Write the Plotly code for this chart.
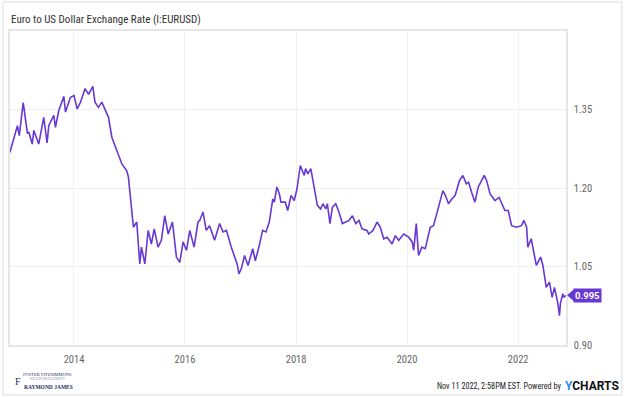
import plotly.graph_objects as go

dates = [
    "2012-11-05", "2012-12-03", "2012-12-25", "2013-01-06", "2013-02-01", "2013-03-01",
    "2013-03-10", "2013-04-01", "2013-04-12", "2013-05-14", "2013-06-16", "2013-07-08",
    "2013-07-19", "2013-08-21", "2013-09-01", "2013-09-23", "2013-10-26", "2013-11-06",
    "2013-12-08", "2014-01-01", "2014-01-22", "2014-02-13", "2014-03-15", "2014-04-07",
    "2014-05-05", "2014-05-19", "2014-06-11", "2014-07-03", "2014-08-16", "2014-09-07",
    "2014-10-09", "2014-11-12", "2014-12-14", "2014-12-25", "2015-01-27", "2015-02-18",
    "2015-03-10", "2015-03-21", "2015-04-12", "2015-05-04", "2015-05-25", "2015-06-13",
    "2015-07-08", "2015-07-30", "2015-08-21", "2015-09-13", "2015-10-11", "2015-11-06",
    "2015-11-28", "2015-12-20", "2016-01-11", "2016-02-02", "2016-03-01", "2016-03-27",
    "2016-04-07", "2016-04-29", "2016-05-20", "2016-06-11", "2016-07-14", "2016-08-16",
    "2016-09-08", "2016-09-30", "2016-11-01", "2016-11-23", "2016-12-10", "2016-12-21",
    "2017-01-06", "2017-01-27", "2017-02-19", "2017-03-22", "2017-04-08", "2017-05-04",
    "2017-05-26", "2017-06-17", "2017-07-09", "2017-08-01", "2017-08-11", "2017-08-28",
    "2017-09-13", "2017-09-24", "2017-10-22", "2017-11-07", "2017-11-29", "2017-12-20",
    "2018-01-07", "2018-01-29", "2018-02-24", "2018-03-05", "2018-03-20", "2018-04-08",
    "2018-04-29", "2018-05-21", "2018-06-12", "2018-06-27", "2018-07-15", "2018-07-26",
    "2018-08-12", "2018-08-28", "2018-09-19", "2018-10-10", "2018-11-02", "2018-11-24",
    "2018-12-15", "2019-01-07", "2019-01-29", "2019-02-19", "2019-03-11", "2019-04-13",
    "2019-04-24", "2019-05-22", "2019-06-18", "2019-07-09", "2019-08-01", "2019-08-23",
    "2019-09-25", "2019-10-16", "2019-11-07", "2019-12-10", "2020-01-12", "2020-02-04",
    "2020-02-14", "2020-03-02", "2020-03-17", "2020-04-08", "2020-04-30", "2020-06-02",
    "2020-06-23", "2020-07-15", "2020-08-02", "2020-08-24", "2020-09-09", "2020-09-30",
    "2020-10-22", "2020-11-13", "2020-12-11", "2021-01-03", "2021-01-25", "2021-02-09",
    "2021-03-01", "2021-03-23", "2021-04-14", "2021-05-06", "2021-05-23", "2021-06-08",
    "2021-06-30", "2021-08-01", "2021-08-29", "2021-10-06", "2021-10-28", "2021-11-19",
    "2021-12-21", "2022-01-23", "2022-02-08", "2022-02-26", "2022-03-06", "2022-03-28",
    "2022-05-01", "2022-05-29", "2022-06-13", "2022-07-05", "2022-07-26", "2022-08-13",
    "2022-08-28", "2022-09-20", "2022-09-30", "2022-10-06", "2022-10-22", "2022-10-28",
    "2022-11-11",
]
eurusd = [
    1.268, 1.294, 1.319, 1.300, 1.363, 1.304,
    1.307, 1.284, 1.310, 1.284, 1.335, 1.286,
    1.319, 1.339, 1.316, 1.348, 1.375, 1.345,
    1.373, 1.377, 1.351, 1.364, 1.390, 1.379,
    1.394, 1.364, 1.354, 1.364, 1.335, 1.297,
    1.272, 1.246, 1.233, 1.221, 1.125, 1.135,
    1.055, 1.087, 1.055, 1.119, 1.093, 1.122,
    1.087, 1.100, 1.147, 1.112, 1.135, 1.068,
    1.058, 1.097, 1.081, 1.119, 1.087, 1.135,
    1.138, 1.154, 1.119, 1.128, 1.100, 1.132,
    1.116, 1.119, 1.087, 1.068, 1.054, 1.036,
    1.046, 1.071, 1.052, 1.084, 1.061, 1.090,
    1.119, 1.116, 1.135, 1.179, 1.173, 1.202,
    1.189, 1.173, 1.173, 1.157, 1.186, 1.176,
    1.198, 1.243, 1.224, 1.237, 1.227, 1.237,
    1.205, 1.167, 1.160, 1.170, 1.160, 1.170,
    1.132, 1.163, 1.170, 1.154, 1.132, 1.135,
    1.138, 1.147, 1.132, 1.138, 1.122, 1.119,
    1.112, 1.119, 1.135, 1.125, 1.103, 1.106,
    1.093, 1.109, 1.100, 1.112, 1.106, 1.097,
    1.081, 1.132, 1.071, 1.087, 1.084, 1.125,
    1.128, 1.151, 1.173, 1.195, 1.186, 1.170,
    1.179, 1.186, 1.214, 1.224, 1.208, 1.211,
    1.192, 1.173, 1.202, 1.214, 1.224, 1.214,
    1.189, 1.176, 1.182, 1.157, 1.157, 1.128,
    1.125, 1.128, 1.138, 1.125, 1.087, 1.103,
    1.052, 1.068, 1.052, 1.010, 1.020, 0.991,
    1.010, 0.979, 0.956, 0.979, 0.998, 0.991,
    0.995,
]

x_tick_vals = ["2014-01-01", "2016-01-01", "2018-01-01", "2020-01-01", "2022-01-01"]
x_tick_text = ["2014", "2016", "2018", "2020", "2022"]
y_tick_vals = [0.90, 1.05, 1.20, 1.35]
y_tick_text = ["0.90", "1.05", "1.20", "1.35"]

title_text = "Euro to US Dollar Exchange Rate (I:EURUSD)"
last_label = "0.995"
footer_text = "Nov 11 2022, 2:58PM EST. Powered by"

PURPLE = "#6838d2"
FONT = "Roboto"
NARROW = "Roboto Condensed, Liberation Sans Narrow, DejaVu Sans Condensed, Roboto"
W, H = 624, 397
L, R, T, B = 8, 58, 31, 52
PW, PH = W - L - R, H - T - B


def px(x):
    return (x - L) / PW


def py(y):
    return (H - B - y) / PH


fig = go.Figure()
fig.add_trace(go.Scatter(
    x=dates, y=eurusd, mode="lines",
    line=dict(color=PURPLE, width=1.6),
    hoverinfo="x+y", showlegend=False,
))

fig.update_layout(
    width=W, height=H,
    margin=dict(l=L, r=R, t=T, b=B),
    paper_bgcolor="white", plot_bgcolor="white",
    font=dict(family=FONT, color="#666666", size=11),
    xaxis=dict(
        range=["2012-11-06", "2022-11-12"],
        tickvals=x_tick_vals, ticktext=x_tick_text,
        showgrid=True, gridcolor="#f0f0f0", gridwidth=1,
        showline=True, linecolor="#e6e6e6", linewidth=1.5, mirror=True,
        zeroline=False, ticks="", ticklabelstandoff=4,
        tickfont=dict(family=NARROW, size=10.5, color="#666666"),
    ),
    yaxis=dict(
        range=[0.90, 1.50], side="right",
        tickvals=y_tick_vals, ticktext=y_tick_text,
        showgrid=True, gridcolor="#f0f0f0", gridwidth=1,
        showline=True, linecolor="#e6e6e6", linewidth=1.5, mirror=True,
        zeroline=False, ticks="", ticklabelstandoff=4,
        tickfont=dict(family=NARROW, size=10.5, color="#666666"),
    ),
)

# outer frame
fig.add_shape(type="rect", xref="paper", yref="paper",
              x0=px(1), x1=px(622), y0=py(395), y1=py(2),
              line=dict(color="#dddddd", width=1), layer="below")

# title
fig.add_annotation(xref="paper", yref="paper", x=px(7), y=py(19),
                   xanchor="left", yanchor="middle", showarrow=False,
                   text=title_text, font=dict(family=NARROW, size=11, color="#333333"))

# last value tag
fig.add_shape(type="path", xref="paper", yref="y", xsizemode="pixel", ysizemode="pixel",
              xanchor=1, yanchor=eurusd[-1],
              path="M 1,0 L 8,6 L 8,-6 Z",
              fillcolor=PURPLE, line=dict(width=0))
fig.add_annotation(xref="paper", yref="y", x=1, y=eurusd[-1], xshift=7,
                   xanchor="left", yanchor="middle", showarrow=False,
                   text="<b>" + last_label + "</b>", bgcolor=PURPLE, borderpad=1,
                   font=dict(family=FONT, size=9.5, color="white"))

# footer
fig.add_annotation(xref="paper", yref="paper", x=px(563), y=py(386),
                   xanchor="right", yanchor="middle", showarrow=False,
                   text=footer_text, font=dict(family=NARROW, size=8.2, color="#222222"))
fig.add_annotation(xref="paper", yref="paper", x=px(621), y=py(386),
                   xanchor="right", yanchor="middle", showarrow=False,
                   text="<span style='color:#2d8cf0'>Y</span>CHARTS",
                   font=dict(family=FONT, size=12, color="#111111", weight="bold"))

# logo
NAVY = "#1f2f5c"
SERIF = "Liberation Serif"
fig.add_annotation(xref="paper", yref="paper", x=px(16), y=py(381),
                   xanchor="center", yanchor="middle", showarrow=False,
                   text="F", font=dict(family=SERIF, size=10, color=NAVY))
fig.add_annotation(xref="paper", yref="paper", x=px(46), y=py(374.5),
                   xanchor="center", yanchor="middle", showarrow=False,
                   text="FOSTER FITZSIMMONS", font=dict(family=SERIF, size=4.5, color=NAVY))
fig.add_annotation(xref="paper", yref="paper", x=px(46), y=py(378.5),
                   xanchor="center", yanchor="middle", showarrow=False,
                   text="WEALTH MANAGEMENT", font=dict(family=SERIF, size=3, color="#8a93ad"))
fig.add_annotation(xref="paper", yref="paper", x=px(47), y=py(387),
                   xanchor="center", yanchor="middle", showarrow=False,
                   text="<b>RAYMOND JAMES</b>", font=dict(family=SERIF, size=5.5, color=NAVY))

fig.write_html("out.html", config={"displayModeBar": False},
               post_script="document.body.style.margin='0';document.body.style.overflow='hidden';")
